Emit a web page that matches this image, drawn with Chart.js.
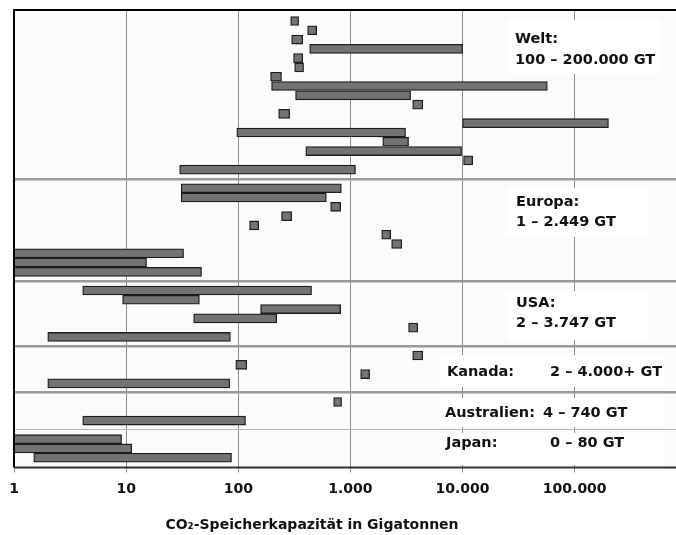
<!DOCTYPE html>
<html lang="de">
<head>
<meta charset="UTF-8">
<title>CO2-Speicherkapazität in Gigatonnen</title>
<script src="https://cdn.jsdelivr.net/npm/chart.js"></script>
<style>
  html, body { margin: 0; padding: 0; background: #fff; }
  #grafico { display: block; }
</style>
</head>
<body>
<canvas id="grafico" width="676" height="535"></canvas>
<script>
// Speicherkapazität je Standort (von - bis, in GT), von oben nach unten
const weltVon = [293, 415, 299, 433, 311, 318, 194, 198, 324, 3590, 229, 10000, 97, 1940, 400, 10200, 30];
const weltBis = [345, 500, 375, 10000, 375, 382, 243, 57000, 3440, 4410, 287, 200000, 3100, 3300, 9800, 12300, 1110];

const europaVon = [31, 31, 666, 243, 126, 1900, 2330, 1, 1, 1];
const europaBis = [830, 610, 818, 299, 152, 2285, 2870, 32.5, 15.2, 47];

const usaVon = [4.1, 9.3, 158, 40, 3300, 2];
const usaBis = [450, 45, 818, 220, 3980, 85];

const kanadaVon = [3590, 95, 1233, 2];
const kanadaBis = [4410, 119, 1483, 84];

const australienVon = [708, null, 4.1];
const australienBis = [834, null, 116];

const japanVon = [1, 1, 1.5];
const japanBis = [9.1, 11.2, 87];

const regioes = ['Welt', 'Europa', 'USA', 'Kanada', 'Australien', 'Japan'];
const ticksX = [1, 10, 100, 1000, 10000, 100000];

const faixas = [
  [weltVon, weltBis], [europaVon, europaBis], [usaVon, usaBis],
  [kanadaVon, kanadaBis], [australienVon, australienBis], [japanVon, japanBis]
];

// uma linha por standort, uma linha vazia entre as regiões
const pontos = [];
const separadores = [];
let linha = 0;
faixas.forEach(([von, bis], r) => {
  von.forEach((v, i) => {
    if (v !== null) pontos.push({ x: [v, bis[i]], y: linha });
    linha++;
  });
  if (r < faixas.length - 1) {
    separadores.push(linha);
    linha++;
  }
});

const fonte = '"DejaVu Sans", sans-serif';

const formatar = v => String(v).replace(/\B(?=(\d{3})+(?!\d))/g, '.');

// textos das regiões sobre fundo branco
const caixas = [
  { r: [507, 20, 660, 74], t: [['Welt:', 515, 39], ['100 – 200.000 GT', 515, 60]] },
  { r: [507, 188, 648, 237], t: [['Europa:', 516, 202], ['1 – 2.449 GT', 516, 222]] },
  { r: [507, 291, 648, 340], t: [['USA:', 516, 303], ['2 – 3.747 GT', 516, 323]] },
  { r: [440, 355, 665, 387], t: [['Kanada:', 447, 372], ['2 – 4.000+ GT', 550, 372]] },
  { r: [440, 398, 665, 427], t: [['Australien:', 445, 413], ['4 – 740 GT', 543, 413]] },
  { r: [440, 433, 665, 465], t: [['Japan:', 446, 443.5], ['0 – 80 GT', 550, 443.5]] }
];

const extras = {
  id: 'extras',
  beforeDraw(chart) {
    const { ctx, chartArea: a } = chart;
    ctx.save();
    ctx.fillStyle = '#fbfbfb';
    ctx.fillRect(a.left, a.top, a.right - a.left, a.bottom - a.top);
    ctx.restore();
  },
  beforeDatasetsDraw(chart) {
    const ctx = chart.ctx;
    ctx.save();
    ctx.font = 'bold 14.5px ' + fonte;
    ctx.textBaseline = 'middle';
    ctx.textAlign = 'left';
    caixas.forEach(c => {
      ctx.fillStyle = '#ffffff';
      ctx.fillRect(c.r[0], c.r[1], c.r[2] - c.r[0], c.r[3] - c.r[1]);
      ctx.fillStyle = '#111';
      c.t.forEach(([txt, x, y]) => ctx.fillText(txt, x, y));
    });
    ctx.restore();
  },
  afterDraw(chart) {
    const { ctx, chartArea: a } = chart;
    ctx.save();
    ctx.lineWidth = 2;
    ctx.strokeStyle = '#000';
    ctx.beginPath();
    ctx.moveTo(a.right, a.top);
    ctx.lineTo(a.left, a.top);
    ctx.lineTo(a.left, a.bottom);
    ctx.stroke();
    ctx.strokeStyle = '#333';
    ctx.beginPath();
    ctx.moveTo(a.left, a.bottom);
    ctx.lineTo(a.right, a.bottom);
    ctx.stroke();

    ctx.fillStyle = '#111';
    ctx.font = 'bold 14px ' + fonte;
    ctx.textAlign = 'center';
    ctx.textBaseline = 'middle';
    ctx.fillText('CO₂-Speicherkapazität in Gigatonnen', 312, 525);
    ctx.restore();
  }
};

new Chart(document.getElementById('grafico'), {
  type: 'bar',
  data: {
    datasets: [{
      data: pontos,
      backgroundColor: '#737373',
      borderColor: '#1c1c1c',
      borderWidth: 1.3,
      borderSkipped: false,
      barThickness: 9
    }]
  },
  options: {
    indexAxis: 'y',
    responsive: false,
    animation: false,
    layout: { padding: { left: 14, top: 10, right: 0, bottom: 0 } },
    plugins: { legend: { display: false }, tooltip: { enabled: false } },
    scales: {
      x: {
        type: 'logarithmic',
        min: 1,
        max: 800000,
        afterBuildTicks: s => { s.ticks = ticksX.map(v => ({ value: v })); },
        afterFit: s => { s.height = 67.5; },
        ticks: {
          callback: v => formatar(v),
          color: '#111',
          font: { family: fonte, size: 14, weight: 'bold' },
          padding: 8,
          maxRotation: 0,
          autoSkip: false
        },
        grid: { color: '#8c8c8c', lineWidth: 1, tickLength: 5 },
        border: { display: false }
      },
      y: {
        type: 'linear',
        reverse: true,
        offset: false,
        min: -1.18,
        max: linha + 0.05,
        afterBuildTicks: s => { s.ticks = separadores.map(v => ({ value: v })); },
        afterFit: s => { s.width = 0; },
        ticks: { display: false },
        grid: {
          offset: false,
          drawTicks: false,
          color: c => c.index === separadores.length - 1 ? '#b4b4b4' : '#9a9a9a',
          lineWidth: c => c.index === separadores.length - 1 ? 1 : 2.5
        },
        border: { display: false }
      }
    }
  },
  plugins: [extras]
});
</script>
</body>
</html>
